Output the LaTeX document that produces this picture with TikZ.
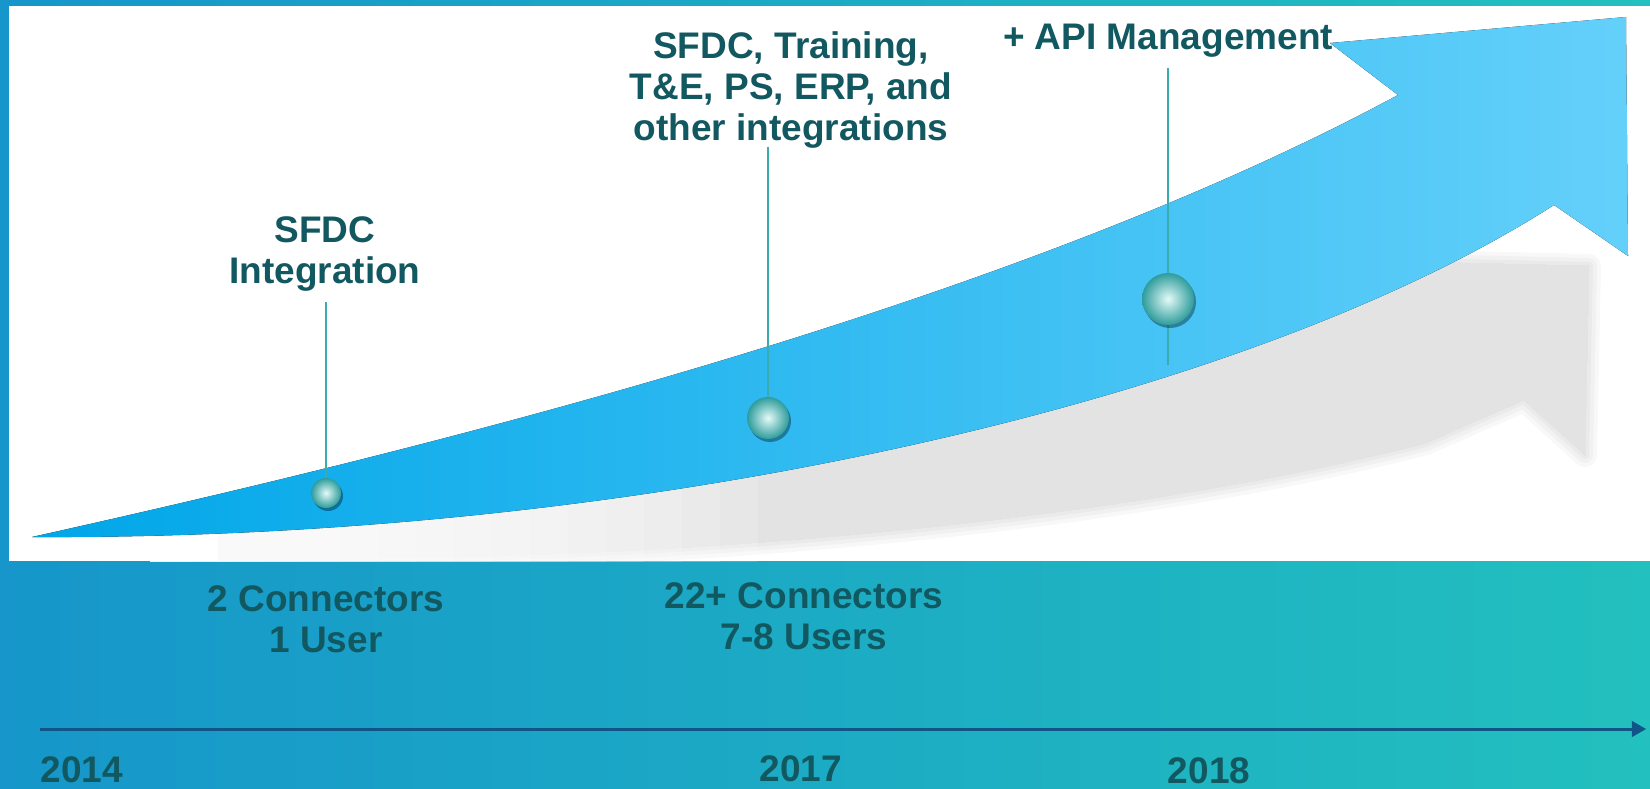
\documentclass[tikz,border=0pt]{standalone}
\usepackage{fontspec}
\setmainfont{Liberation Sans}
\usetikzlibrary{shapes,arrows,shadows}
\definecolor{bgleft}{RGB}{22,150,202}
\definecolor{bgright}{RGB}{34,192,190}
\definecolor{arrowleft}{RGB}{0,166,232}
\definecolor{arrowmid}{RGB}{14,178,238}
\definecolor{arrowright}{RGB}{100,208,250}
\definecolor{labelteal}{RGB}{18,88,96}
\definecolor{stemteal}{RGB}{58,172,176}
\definecolor{ballteal}{RGB}{46,156,156}
\definecolor{balllight}{RGB}{228,250,248}
\definecolor{timeblue}{RGB}{16,84,136}

\begin{document}
\begin{tikzpicture}[x=1pt,y=-1pt]

\tikzstyle{milestone} = [align=center, text=labelteal, inner sep=0, anchor=north,
font=\bfseries\fontsize{37}{41}\selectfont]
\tikzstyle{ball} = [circle, inner sep=0, inner color=balllight, outer color=ballteal,
drop shadow={shadow xshift=2pt, shadow yshift=-3pt, opacity=0.35, fill=black}]
\tikzstyle{stem} = [draw=stemteal, line width=2.5]

% background and white panel
\fill[left color=bgleft, right color=bgright] (0,0) rectangle (1650,789);
\fill[white] (9,6) rectangle (1650,561);

% blurred shadow of the arrow
\begin{scope}
\clip (9,6) rectangle (1650,561);
\foreach \w in {24,16,8,0}{
  \begin{scope}[transparency group, opacity=0.028]
  \path[fill=black, draw=black, line width=\w, line join=round]
  (230,558) .. controls (700,565) and (1150,515) .. (1426,443) -- (1524,400) -- (1585,455)
  -- (1589,266) -- (1421,262) .. controls (1200,370) and (700,480) .. (230,540) -- cycle;
  \end{scope}
}
% fade the shadow out to the left
\foreach \i in {1,...,16}
  \fill[white, fill opacity=0.15] (150,420) rectangle ({150+\i*38},562);
\end{scope}

% growth arrow
\fill[left color=arrowleft, middle color=arrowmid, right color=arrowright]
  (32,537) .. controls (400,455) and (1000,310) .. (1398,95) -- (1330,43) -- (1626,17)
  -- (1628,256) -- (1554,205) .. controls (1250,400) and (650,540) .. (32,537) -- cycle;

% milestones
\coordinate (topA) at (326,302);
\coordinate (topB) at (768,147);
\coordinate (topC) at (1168,68);
\coordinate (footC) at (1168,365);

\node [ball, minimum size=30] (ballA) at (326,493) {};
\node [ball, minimum size=42] (ballB) at (768,418) {};

\draw[stem] (topA) -- (ballA);
\draw[stem] (topB) -- (ballB);
\draw[stem] (topC) -- (footC);

\node [ball, minimum size=52] (ballC) at (1168,299) {};

\node [milestone] (sfdcLbl) at (325,216) {SFDC\\Integration};
\node [milestone] (multiLbl) at (791,31) {SFDC, Training,\\T\&E, PS, ERP, and\\other integrations};
\node [milestone] (apiLbl) at (1168,24) {+ API Management};

\node [milestone] (connA) at (326,585) {2 Connectors\\1 User};
\node [milestone] (connB) at (804,582) {22+ Connectors\\7-8 Users};

% timeline
\coordinate (tlstart) at (40,729);
\coordinate (tlend) at (1646,729);
\draw[-triangle 60, draw=timeblue, fill=timeblue, line width=3] (tlstart) -- (tlend);

\node [milestone] (yearA) at (82,756) {2014};
\node [milestone] (yearB) at (801,755) {2017};
\node [milestone] (yearC) at (1209,757) {2018};

\end{tikzpicture}
\end{document}
